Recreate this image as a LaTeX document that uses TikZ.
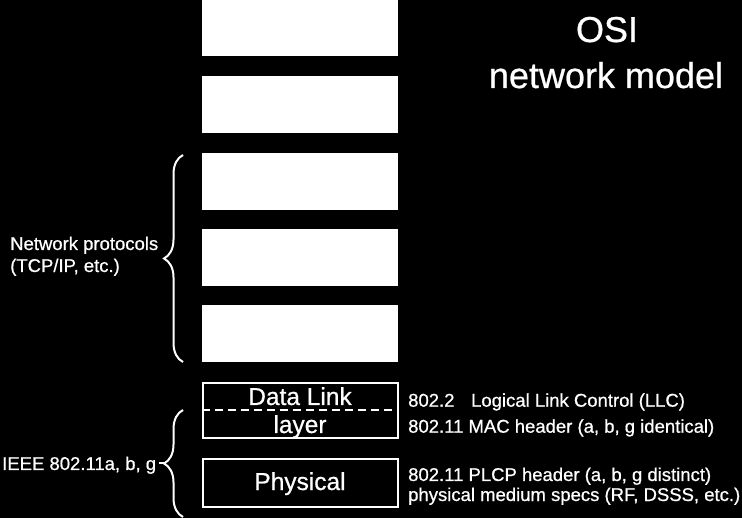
\documentclass[tikz,border=0pt]{standalone}
\usepackage{fontspec}
\setmainfont[FakeBold=0.7]{Liberation Sans}
\usetikzlibrary{decorations.pathreplacing}
\begin{document}
\begin{tikzpicture}[x=1pt,y=-1pt,
  layerbox/.style={fill=white,draw=none,minimum width=196pt,minimum height=57pt,inner sep=0pt},
  dlbox/.style={draw=white,line width=2pt,minimum width=195pt,inner sep=0pt},
  lbl/.style={text=white,inner sep=0pt,font=\fontsize{18.5}{20}\selectfont},
  boxtxt/.style={text=white,inner sep=0pt,font=\fontsize{24.5}{26}\selectfont},
  ttl/.style={text=white,inner sep=0pt,font=\fontsize{36}{40}\selectfont},
  bracestyle/.style={draw=white,line width=2pt,decorate,decoration={brace,amplitude=19pt,aspect=0.5}}]
\fill[black] (0,0) rectangle (742,518);
\useasboundingbox (0,0) rectangle (742,518);
% upper layers
\node[layerbox] (l7) at (300,28) {};
\node[layerbox] (l6) at (300,104.5) {};
\node[layerbox] (l5) at (300,181.5) {};
\node[layerbox] (l4) at (300,257.5) {};
\node[layerbox] (l3) at (300,334) {};
% data link and physical
\node[dlbox,minimum height=55pt] (dl) at (300,410.3) {};
\draw[white,line width=2pt,dash pattern=on 8pt off 5pt] (dl.west) -- (dl.east);
\node[dlbox,minimum height=47.5pt] (ph) at (300,483) {};
\node[boxtxt,anchor=base] (tdl) at (300,405) {Data Link};
\node[boxtxt,anchor=base] (tly) at (300,433) {layer};
\node[boxtxt,anchor=base] (tph) at (300,490) {Physical};
% right labels
\node[lbl,anchor=base west] (r1) at (408,406.7) {802.2\hspace{0.9em}Logical Link Control (LLC)};
\node[lbl,anchor=base west] (r2) at (408,432.7) {802.11 MAC header (a, b, g identical)};
\node[lbl,anchor=base west] (r3) at (408,481) {802.11 PLCP header (a, b, g distinct)};
\node[lbl,anchor=base west] (r4) at (408,501) {physical medium specs (RF, DSSS, etc.)};
% title
\node[ttl,anchor=base] (t1) at (607,42) {OSI};
\node[ttl,anchor=base] (t2) at (606,88) {network model};
% braces
\coordinate (b1s) at (183,362);
\coordinate (b1e) at (183,155);
\draw[bracestyle] (b1s) -- (b1e);
\node[lbl,anchor=base west] (n1) at (10,250) {Network protocols};
\node[lbl,anchor=base west] (n2) at (10,272) {(TCP/IP, etc.)};
\coordinate (b2s) at (183,517);
\coordinate (b2e) at (183,410);
\draw[bracestyle] (b2s) -- (b2e);
\coordinate (b2t) at (164,463.5);
\coordinate (b2d) at (159,463.5);
\draw[white,line width=2pt] (b2d) -- (b2t);
\node[lbl,anchor=base west] (n3) at (2,470) {IEEE 802.11a, b, g};
\end{tikzpicture}
\end{document}
